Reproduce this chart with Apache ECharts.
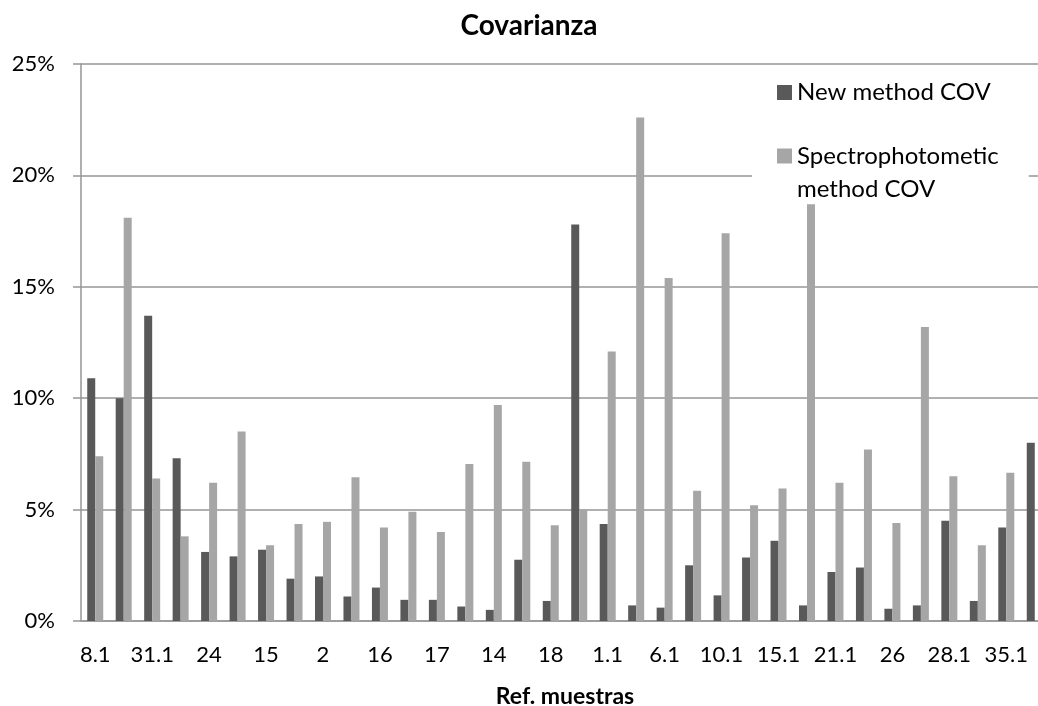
<!DOCTYPE html>
<html>
<head>
<meta charset="utf-8">
<script src="https://cdn.jsdelivr.net/npm/echarts@6/dist/echarts.min.js"></script>
<style>
html,body{margin:0;padding:0;overflow:hidden;background:#fff;width:1038px;height:706px;}
#chart{width:1058px;height:706px;}
</style>
</head>
<body>
<div id="chart"></div>
<script>
const categories = ["8.1","8.2","31.1","31.2","24","25","15","13","2","3","16","12","17","11","14","19","18","20","1.1","2.1","6.1","7.1","10.1","11.1","15.1","16.1","21.1","22.1","26","27","28.1","29.1","35.1","36.1"];
const newMethod = [10.9,10.0,13.7,7.3,3.1,2.9,3.2,1.9,2.0,1.1,1.5,0.95,0.95,0.65,0.5,2.75,0.9,17.8,4.35,0.7,0.6,2.5,1.15,2.85,3.6,0.7,2.2,2.4,0.55,0.7,4.5,0.9,4.2,8.0];
const spectro = [7.4,18.1,6.4,3.8,6.2,8.5,3.4,4.35,4.45,6.45,4.2,4.9,4.0,7.05,9.7,7.15,4.3,5.0,12.1,22.6,15.4,5.85,17.4,5.2,5.95,18.7,6.2,7.7,4.4,13.2,6.5,3.4,6.65,null];
const yTicks = {min:0, max:25, interval:5};
const seriesNames = ["New method COV","Spectrophotometic method COV"];

const FONT = 'Lato';
const GRID = '#969696';
const chart = echarts.init(document.getElementById('chart'), null, {renderer:'canvas'});
chart.setOption({
  animation:false,
  backgroundColor:'#fff',
  title:{text:'Covarianza', left:'center', top:12, padding:0,
    textStyle:{fontFamily:FONT, fontWeight:'bold', fontSize:28, color:'#000'}},
  legend:[
    {data:[seriesNames[0]], left:777, top:79.5, orient:'vertical', padding:0,
     itemWidth:15, itemHeight:15, icon:'rect', z:1,
     textStyle:{fontFamily:FONT, fontSize:24, color:'#000', lineHeight:26}},
    {data:[seriesNames[1]], left:752, top:106.5, orient:'vertical', padding:[0,30,0,25],
     itemWidth:15, itemHeight:15, icon:'rect', z:1, backgroundColor:'#fff',
     formatter:function(n){return ' \n' + n.replace(' method','\nmethod');},
     textStyle:{fontFamily:FONT, fontSize:24, color:'#000', lineHeight:33}}
  ],
  grid:{left:81, right:9, top:64, bottom:85, containLabel:false, outerBoundsMode:'none'},
  xAxis:{type:'category', data:categories,
    name:'Ref. muestras', nameLocation:'middle', nameGap:64.5,
    nameTextStyle:{fontFamily:FONT, fontWeight:'bold', fontSize:23, color:'#000'},
    axisLine:{show:true, lineStyle:{color:GRID, width:1.5}},
    axisTick:{show:false},
    axisLabel:{interval:1, margin:23, fontFamily:FONT, fontSize:22, color:'#000', hideOverlap:false},
    splitLine:{show:false}},
  yAxis:{type:'value', min:yTicks.min, max:yTicks.max, interval:yTicks.interval,
    axisLine:{show:true, lineStyle:{color:GRID, width:1.5}},
    axisTick:{show:true, length:8, lineStyle:{color:GRID, width:1.5}},
    axisLabel:{formatter:'{value}%', margin:26, fontFamily:FONT, fontSize:22, color:'#000'},
    splitLine:{show:true, lineStyle:{color:GRID, width:1.5}}},
  series:[
    {name:seriesNames[0], type:'bar', data:newMethod, barWidth:8, barGap:'0%',
     itemStyle:{color:'#595959'}},
    {name:seriesNames[1], type:'bar', data:spectro, barWidth:8, barGap:'0%',
     itemStyle:{color:'#a6a6a6'}}
  ]
});
</script>
</body>
</html>
